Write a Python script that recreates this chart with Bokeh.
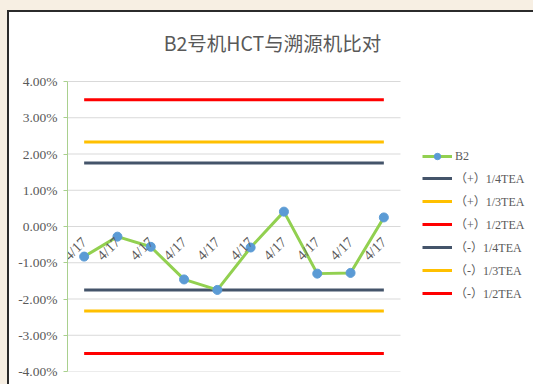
from bokeh.plotting import figure
from bokeh.models import (Range1d, FixedTicker, PrintfTickFormatter, Legend, LegendItem,
                          ColumnDataSource, Label)
from bokeh.layouts import column
from bokeh.embed import file_html
from bokeh.resources import INLINE
from bokeh.core.properties import value

# ---- data ----
dates = ["4/17"] * 10
b2 = [-0.83, -0.28, -0.56, -1.46, -1.75, -0.58, 0.41, -1.30, -1.28, 0.25]
tea = 7.0
tea_names = ["（+）1/4TEA", "（+）1/3TEA", "（+）1/2TEA",
             "（-）1/4TEA", "（-）1/3TEA", "（-）1/2TEA"]
tea_levels = [tea / 4, tea / 3, tea / 2, -tea / 4, -tea / 3, -tea / 2]
tea_colors = ["#44546A", "#FFC000", "#FF0000", "#44546A", "#FFC000", "#FF0000"]
yticks = [-4, -3, -2, -1, 0, 1, 2, 3, 4]
title_text = "B2号机HCT与溯源机比对"

n = len(dates)
idx = list(range(1, n + 1))

W, H = 524, 372
left_b, bottom_b = 58, 13
plot_w, plot_h = 333.0, 290.0        # pixel size of the value area
frame_w = W - left_b
frame_h = H - bottom_b
ymin, ymax = yticks[0], yticks[-1]
x_end = 0.5 + frame_w * n / plot_w
y_end = ymin + frame_h * (ymax - ymin) / plot_h

p = figure(width=W, height=H, output_backend="svg", toolbar_location=None,
           x_range=Range1d(0.5, x_end), y_range=Range1d(ymin, y_end),
           min_border_left=left_b, min_border_right=0, min_border_top=0,
           min_border_bottom=bottom_b)
p.margin = (12, 0, 0, 9)
p.outline_line_color = None
p.background_fill_color = "white"
p.border_fill_color = "white"

p.xaxis.visible = False
p.xgrid.grid_line_color = None
p.ygrid.grid_line_color = None

# horizontal gridlines spanning only the category area
p.segment(x0=0.5, x1=n + 0.5, y0=yticks, y1=yticks, line_color="#D9D9D9", line_width=1)

ya = p.yaxis[0]
ya.bounds = (ymin, ymax)
ya.ticker = FixedTicker(ticks=yticks)
ya.formatter = PrintfTickFormatter(format="%.2f%%")
ya.axis_line_color = "#A9D08E"
ya.major_tick_line_color = "#A9D08E"
ya.major_tick_out = 4
ya.major_tick_in = 0
ya.minor_tick_line_color = None
ya.major_label_text_font = "Liberation Serif"
ya.major_label_text_font_size = "13.5px"
ya.major_label_text_color = "#595959"
ya.major_label_standoff = 6

tea_renderers = []
for name, lvl, col in zip(tea_names, tea_levels, tea_colors):
    r = p.line(x=idx, y=[lvl] * n, line_color=col, line_width=3)
    tea_renderers.append((name, r))

src = ColumnDataSource(dict(x=idx, y=b2, t=dates))
rl = p.line("x", "y", source=src, line_color="#92D050", line_width=3)
rs = p.scatter("x", "y", source=src, size=9, fill_color="#5B9BD5", line_color="#5B9BD5")

# category labels along the zero line
p.text(x="x", y=0, text="t", source=src, angle=0.785398, text_align="right",
       text_baseline="middle", x_offset=0, y_offset=13,
       text_font=value("Liberation Serif"), text_font_size="14.5px", text_color="#595959")

items = [LegendItem(label="B2", renderers=[rl, rs])]
for name, r in tea_renderers:
    items.append(LegendItem(label=name, renderers=[r]))

legend = Legend(items=items, location=(355, 69), padding=0, margin=0,
                border_line_color=None, background_fill_alpha=0,
                glyph_width=30, glyph_height=16, label_height=16, spacing=5,
                label_standoff=3, label_text_font="Liberation Serif, Noto Sans CJK SC",
                label_text_font_size="12px", label_text_color="#595959")
p.add_layout(legend, "center")

title = Label(x=205, y=329, x_units="screen", y_units="screen", text=title_text,
              text_align="center", text_baseline="middle",
              text_font="Noto Sans CJK SC", text_font_size="19.5px", text_color="#595959")
p.add_layout(title)

bg = ("linear-gradient(to bottom, #F7EFE3 0px, #F7EFE3 10px, transparent 10px), "
      "linear-gradient(to right, #F7EFE3 0px, #F7EFE3 7px, transparent 7px), "
      "linear-gradient(to bottom, transparent 10px, #2b2b2b 10px, #2b2b2b 12px, transparent 12px), "
      "linear-gradient(to right, transparent 7px, #2b2b2b 7px, #2b2b2b 9px, transparent 9px), "
      "#FFFFFF")
layout = column(p, styles={"background": bg})

open("out.html", "w").write(file_html(layout, INLINE))
